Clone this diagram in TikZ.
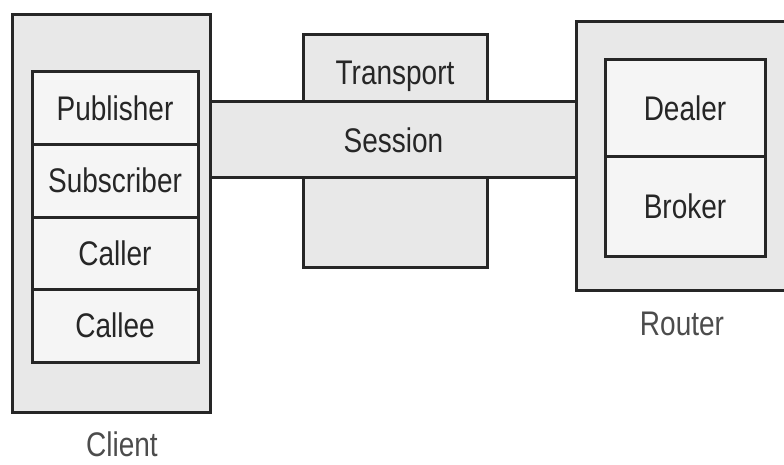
\documentclass[tikz,border=0pt]{standalone}
\usepackage{fontspec}
\setmainfont{Liberation Sans}
\usepackage{graphicx}
\usetikzlibrary{positioning}

% testo leggermente allungato in verticale
\newcommand{\tallword}[1]{\scalebox{1}[1.22]{#1}}

\begin{document}
\begin{tikzpicture}[
			x=1pt, y=-1pt,
			% outer boxes: client, router, transport
			outerbox/.style={draw=black!85, fill=black!9, rectangle, line width=3pt, outer sep=0pt},
			% stacked role boxes inside client and router
			rolebox/.style={draw=black!85, fill=black!4, rectangle, line width=3pt, outer sep=0pt,
				minimum width=166pt, minimum height=72.5pt, font=\fontsize{28}{32}\selectfont, text=black!85},
			caption/.style={font=\fontsize{28}{32}\selectfont, text=black!70}
			]
			
			\clip (0,0) rectangle (784,465);
			
			% --- TRANSPORT e SESSION (centro) ---
			\node [outerbox, minimum width=184pt, minimum height=232pt,
				label={[caption, text=black!85, anchor=north, yshift=-22pt]north:\tallword{Transport}}] (transport) at (395,151) {};
			\node [outerbox, minimum width=367pt, minimum height=76pt,
				font=\fontsize{28}{32}\selectfont, text=black!85] (session) at (393.5,140) {\tallword{Session}};
			
			% --- CLIENT (sinistra) ---
			\node [outerbox, minimum width=198pt, minimum height=397pt,
				label={[caption, yshift=-16pt, xshift=11pt]below:\tallword{Client}}] (client) at (111,213.5) {};
			\node [rolebox] (publisher) at (115,108.25) {\tallword{Publisher}};
			\node [rolebox, below=0pt of publisher] (subscriber) {\tallword{Subscriber}};
			\node [rolebox, below=0pt of subscriber] (caller) {\tallword{Caller}};
			\node [rolebox, below=0pt of caller] (callee) {\tallword{Callee}};
			
			% --- ROUTER (destra) ---
			\node [outerbox, minimum width=240pt, minimum height=268pt,
				label={[caption, yshift=-18pt, xshift=-14pt]below:\tallword{Router}}] (router) at (696,156) {};
			\node [rolebox, minimum width=160pt, minimum height=97pt] (dealer) at (685,108) {\tallword{Dealer}};
			\node [rolebox, minimum width=160pt, minimum height=100pt, below=0pt of dealer] (broker) {\tallword{Broker}};
			
		\end{tikzpicture}
\end{document}
